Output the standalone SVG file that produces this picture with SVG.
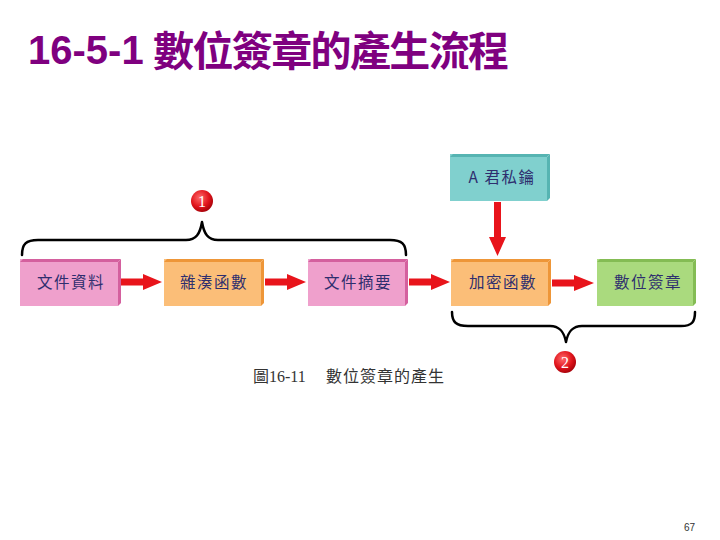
<svg xmlns="http://www.w3.org/2000/svg" width="720" height="540" viewBox="0 0 720 540">
<style>
.title{font-family:"Liberation Sans","Noto Sans CJK TC",sans-serif;font-weight:bold;fill:#7F007F}
.lbl{font-family:"Noto Sans CJK TC",sans-serif;font-size:15.5px;fill:#2E2E6E;text-anchor:middle;letter-spacing:1.5px}
.cap{font-family:"Liberation Serif","Noto Sans CJK TC",serif;font-size:16px;fill:#333}
.arrow{fill:#E8141B}
.brace{fill:none;stroke:#000;stroke-width:2.5;stroke-linecap:round;stroke-linejoin:round}
.num{font-family:"Liberation Serif",serif;font-size:16px;fill:#fff;text-anchor:middle}
.pink{fill:#EFA0CC}.pinkE{fill:#D4609E}
.orange{fill:#FBBE78}.orangeE{fill:#EE9638}
.green{fill:#AADA7E}.greenE{fill:#84BC54}
.teal{fill:#80D0CE}.tealE{fill:#56B4B2}
</style>
<defs>
<radialGradient id="ball" cx="0.4" cy="0.35" r="0.7">
<stop offset="0" stop-color="#FF6A6A"/>
<stop offset="0.6" stop-color="#E0141B"/>
<stop offset="1" stop-color="#A00008"/>
</radialGradient>
</defs>
<text class="title" x="28" y="64" font-size="40">16-5-1</text>
<text class="title" x="153" y="66" font-size="41" font-family="Noto Sans CJK TC, sans-serif" textLength="356" lengthAdjust="spacing">數位簽章的產生流程</text>

<g id="node-doc">
<rect class="pink" x="20" y="259" width="98" height="47"/>
<polygon class="pinkE" points="20,262 23,259 121,259 118,262"/>
<polygon class="pinkE" points="118,262 121,259 121,303 118,306"/>
<text class="lbl" x="71" y="288">文件資料</text>
</g>
<g id="node-hash">
<rect class="orange" x="164" y="259" width="97" height="47"/>
<polygon class="orangeE" points="164,262 167,259 264,259 261,262"/>
<polygon class="orangeE" points="261,262 264,259 264,303 261,306"/>
<text class="lbl" x="214" y="288">雜湊函數</text>
</g>
<g id="node-digest">
<rect class="pink" x="308" y="259" width="97" height="47"/>
<polygon class="pinkE" points="308,262 311,259 408,259 405,262"/>
<polygon class="pinkE" points="405,262 408,259 408,303 405,306"/>
<text class="lbl" x="358" y="288">文件摘要</text>
</g>
<g id="node-key">
<rect class="teal" x="450" y="154" width="97" height="47"/>
<polygon class="tealE" points="450,157 453,154 550,154 547,157"/>
<polygon class="tealE" points="547,157 550,154 550,198 547,201"/>
<text class="lbl" x="502" y="183">A 君私鑰</text>
</g>
<g id="node-encrypt">
<rect class="orange" x="451" y="259" width="97" height="47"/>
<polygon class="orangeE" points="451,262 454,259 551,259 548,262"/>
<polygon class="orangeE" points="548,262 551,259 551,303 548,306"/>
<text class="lbl" x="503" y="288">加密函數</text>
</g>
<g id="node-sign">
<rect class="green" x="597" y="259" width="96" height="47"/>
<polygon class="greenE" points="597,262 600,259 696,259 693,262"/>
<polygon class="greenE" points="693,262 696,259 696,303 693,306"/>
<text class="lbl" x="648" y="288">數位簽章</text>
</g>

<g id="connectors">
<polygon class="arrow" points="121,278.5 143,278.5 143,274 162,282 143,290 143,285.5 121,285.5"/>
<polygon class="arrow" points="265,278.5 287,278.5 287,274 306,282 287,290 287,285.5 265,285.5"/>
<polygon class="arrow" points="409,278.5 431,278.5 431,274 450,282 431,290 431,285.5 409,285.5"/>
<polygon class="arrow" points="552,279.5 574,279.5 574,275 594,283 574,291 574,286.5 552,286.5"/>
<polygon class="arrow" points="494,202 501,202 501,237 506,237 497.5,256 489,237 494,237"/>
</g>

<g id="brace1">
<path class="brace" d="M22,255 C22,244 26,240 38,240 L186,240 C196,240 200,234 202,222 C204,234 208,240 218,240 L390,240 C402,240 406,244 406,255"/>
<circle cx="202" cy="201" r="11" fill="url(#ball)"/>
<text class="num" x="202" y="207">1</text>
</g>
<g id="brace2">
<path class="brace" d="M452,312 C452,322 456,326 468,326 L550,326 C560,326 564,332 566,342 C568,332 572,326 582,326 L681,326 C692,326 695,322 695,312"/>
<circle cx="565" cy="362" r="11" fill="url(#ball)"/>
<text class="num" x="565" y="368">2</text>
</g>

<text class="cap" x="253" y="382">圖16-11</text>
<text class="cap" x="326" y="382" font-family="Noto Sans CJK TC, sans-serif" letter-spacing="1">數位簽章的產生</text>
<text x="684" y="531" font-family="Liberation Sans, sans-serif" font-size="10" fill="#333">67</text>
</svg>
